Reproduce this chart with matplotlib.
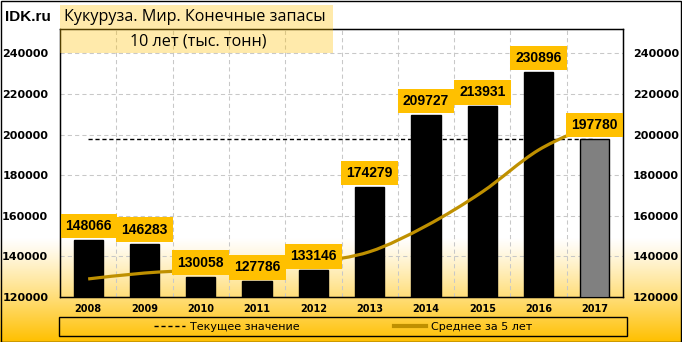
import numpy as np
import matplotlib
matplotlib.use("Agg")
import matplotlib.pyplot as plt
from matplotlib.path import Path
from matplotlib.patches import PathPatch, Rectangle
from matplotlib.lines import Line2D

years = ["2008", "2009", "2010", "2011", "2012", "2013", "2014", "2015", "2016", "2017"]
stocks = [148066, 146283, 130058, 127786, 133146, 174279, 209727, 213931, 230896, 197780]
avg5 = [128900, 131800, 133300, 134500, 137068, 142310, 154999, 171774, 192396, 205323]
current = 197780

title = "Кукуруза. Мир. Конечные запасы"
subtitle = "10 лет (тыс. тонн)"
legend_labels = ["Текущее значение", "Среднее за 5 лет"]

GOLD = "#FFC000"
LINE = "#BF9000"
W, H = 682, 342

fig = plt.figure(figsize=(W / 100, H / 100), dpi=100)

# background gradient: white at top, gold at bottom
bg = fig.add_axes([0, 0, 1, 1], zorder=-10)
bg.axis("off")
yy = np.linspace(0, 1, 342)
t = np.clip((yy * H - 238) / (H - 238), 0, 1) ** 1.15
c_top = np.array([1.0, 1.0, 1.0])
c_bot = np.array([1.0, 192 / 255, 0.0])
grad = (c_top[None, :] * (1 - t[:, None]) + c_bot[None, :] * t[:, None])[:, None, :]
bg.imshow(grad, aspect="auto", extent=[0, 1, 0, 1], origin="upper")
bg.set_xlim(0, 1)
bg.set_ylim(0, 1)

ax = fig.add_axes([60 / W, 1 - 297 / H, (623 - 60) / W, (297 - 29) / H])
ax.patch.set_alpha(0)
x = np.arange(len(years))
colors = ["black"] * (len(years) - 1) + ["#808080"]
ax.bar(x, stocks, width=0.52, color=colors, edgecolor="black", linewidth=1, zorder=3)

ax.set_xlim(-0.5, len(years) - 0.5)
ax.set_ylim(120000, 252000)
ax.set_yticks(np.arange(120000, 240001, 20000))
ax.set_xticks(x)
ax.set_xticklabels(years, fontsize=7, fontweight="bold")
ax.tick_params(axis="x", length=0, pad=5)
ax.tick_params(axis="y", length=0, pad=8.5, labelsize=8)
for lab in ax.get_yticklabels():
    lab.set_fontweight("bold")
ax.yaxis.grid(True, color="#C8C8C8", linestyle=(0, (4, 3)), linewidth=0.75, zorder=1)
for b in np.arange(0.5, len(years) - 1, 1):
    ax.axvline(b, color="#C8C8C8", linestyle=(0, (4, 3)), linewidth=0.75, zorder=1)
for s in ax.spines.values():
    s.set_linewidth(1)

ax2 = ax.twinx()
ax2.set_ylim(ax.get_ylim())
ax2.set_yticks(ax.get_yticks())
ax2.tick_params(axis="y", length=0, pad=7, labelsize=8)
for lab in ax2.get_yticklabels():
    lab.set_fontweight("bold")

# current value dashed line
ax.plot([x[0], x[-1]], [current, current], color="black", linestyle=(0, (3, 2)),
        linewidth=1, zorder=2)

# smoothed 5-year average (Catmull-Rom as cubic bezier path)
pts = np.column_stack([x, avg5]).astype(float)
ext = np.vstack([pts[0], pts, pts[-1]])
verts = [pts[0]]
codes = [Path.MOVETO]
for i in range(len(pts) - 1):
    p0, p1, p2, p3 = ext[i], ext[i + 1], ext[i + 2], ext[i + 3]
    verts += [p1 + (p2 - p0) / 6, p2 - (p3 - p1) / 6, p2]
    codes += [Path.CURVE4] * 3
ax.add_patch(PathPatch(Path(verts, codes), facecolor="none", edgecolor=LINE,
                       linewidth=2.3, zorder=4, capstyle="butt"))

# value labels
for xi, v in zip(x, stocks):
    ax.annotate(f"{v}", (xi, v), xytext=(0, 10), textcoords="offset points",
                ha="center", va="center", fontsize=10, fontweight="bold",
                family="Liberation Sans", zorder=6,
                bbox=dict(boxstyle="square,pad=0.38", facecolor=GOLD, edgecolor="none"))

# title boxes
fig.patches.append(Rectangle((60 / W, 1 - 53 / H), (333 - 60) / W, 48 / H,
                             transform=fig.transFigure, facecolor=GOLD, alpha=0.33,
                             edgecolor="none", zorder=5))
fig.text(64 / W, 1 - 17 / H, title, fontsize=11.6, ha="left", va="center",
         family="Open Sans", zorder=6)
fig.text(198 / W, 1 - 41 / H, subtitle, fontsize=11.6, ha="center", va="center",
         family="Open Sans", zorder=6)
fig.text(5 / W, 1 - 17 / H, "IDK.ru", fontsize=11, fontweight="bold", ha="left",
         va="center", family="Liberation Sans")

# legend
fig.patches.append(Rectangle((59 / W, 1 - 336 / H), 568 / W, 19 / H,
                             transform=fig.transFigure, facecolor="none",
                             edgecolor="black", linewidth=1))
handles = [Line2D([], [], color="black", linestyle=(0, (3, 2)), linewidth=1),
           Line2D([], [], color=LINE, linewidth=3)]
fig.legend(handles, legend_labels, loc="center", bbox_to_anchor=(343 / W, 1 - 326.5 / H),
           ncol=2, frameon=False, fontsize=8, handlelength=2.8, handletextpad=0.5,
           columnspacing=8.5, borderpad=0, borderaxespad=0)

# outer border
fig.patches.append(Rectangle((0.5 / W, 0.5 / H), (W - 1.5) / W, (H - 1.5) / H,
                             transform=fig.transFigure, facecolor="none",
                             edgecolor="black", linewidth=1))

fig.savefig("out.png", dpi=100)
